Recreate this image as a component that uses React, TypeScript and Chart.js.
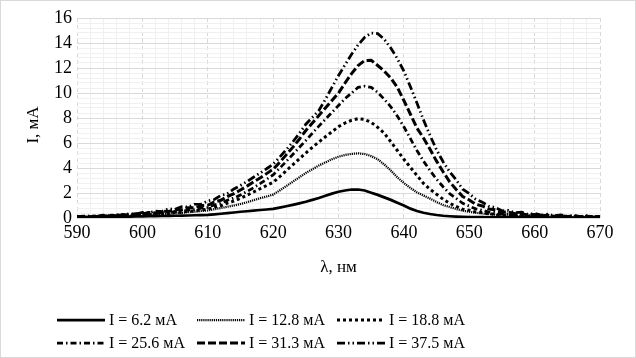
import { useEffect, useRef } from "react";
import { Chart, registerables } from "chart.js";

Chart.register(...registerables);

const FONT = '"Liberation Serif", "Times New Roman", serif';

const WAVELENGTHS = [
  590, 591, 592, 593, 594, 595, 596, 597, 598, 599,
  600, 601, 602, 603, 604, 605, 606, 607, 608, 609,
  610, 611, 612, 613, 614, 615, 616, 617, 618, 619,
  620, 621, 622, 623, 624, 625, 626, 627, 628, 629,
  630, 631, 632, 633, 634, 635, 636, 637, 638, 639,
  640, 641, 642, 643, 644, 645, 646, 647, 648, 649,
  650, 651, 652, 653, 654, 655, 656, 657, 658, 659,
  660, 661, 662, 663, 664, 665, 666, 667, 668, 669,
  670,
];

const I_6_2 = [
  0.05, 0.05, 0.06, 0.06, 0.07, 0.08, 0.09, 0.10, 0.11, 0.12,
  0.13, 0.14, 0.15, 0.16, 0.17, 0.18, 0.19, 0.20, 0.22, 0.23,
  0.25, 0.29, 0.34, 0.39, 0.44, 0.50, 0.54, 0.59, 0.64, 0.68,
  0.73, 0.83, 0.94, 1.05, 1.17, 1.30, 1.45, 1.60, 1.78, 1.95,
  2.10, 2.20, 2.28, 2.28, 2.20, 2.02, 1.85, 1.65, 1.45, 1.22,
  1.00, 0.75, 0.56, 0.42, 0.32, 0.24, 0.18, 0.14, 0.11, 0.09,
  0.08, 0.07, 0.07, 0.06, 0.06, 0.06, 0.05, 0.05, 0.05, 0.05,
  0.05, 0.05, 0.04, 0.04, 0.04, 0.04, 0.04, 0.04, 0.04, 0.04,
  0.04,
];

const I_12_8 = [
  0.06, 0.08, 0.07, 0.10, 0.08, 0.11, 0.11, 0.14, 0.14, 0.18,
  0.18, 0.23, 0.25, 0.31, 0.33, 0.39, 0.41, 0.47, 0.50, 0.56,
  0.60, 0.70, 0.80, 0.90, 1.00, 1.12, 1.26, 1.42, 1.58, 1.72,
  1.87, 2.20, 2.55, 2.90, 3.25, 3.60, 3.90, 4.20, 4.45, 4.70,
  4.90, 5.04, 5.13, 5.17, 5.12, 4.95, 4.70, 4.28, 3.80, 3.25,
  2.80, 2.40, 2.05, 1.80, 1.55, 1.28, 1.04, 0.88, 0.72, 0.58,
  0.50, 0.42, 0.36, 0.30, 0.26, 0.22, 0.19, 0.16, 0.14, 0.12,
  0.10, 0.09, 0.08, 0.08, 0.07, 0.06, 0.06, 0.05, 0.05, 0.05,
  0.05,
];

const I_18_8 = [
  0.07, 0.09, 0.07, 0.11, 0.09, 0.13, 0.11, 0.17, 0.15, 0.21,
  0.21, 0.27, 0.28, 0.35, 0.35, 0.44, 0.45, 0.54, 0.56, 0.66,
  0.70, 0.86, 0.98, 1.20, 1.36, 1.57, 1.82, 2.08, 2.34, 2.60,
  2.85, 3.30, 3.78, 4.25, 4.72, 5.20, 5.65, 6.08, 6.50, 6.90,
  7.30, 7.60, 7.82, 7.95, 7.88, 7.65, 7.25, 6.78, 6.10, 5.40,
  4.70, 4.05, 3.40, 2.77, 2.30, 1.90, 1.50, 1.18, 0.92, 0.70,
  0.62, 0.48, 0.44, 0.33, 0.31, 0.23, 0.24, 0.17, 0.18, 0.13,
  0.14, 0.10, 0.11, 0.08, 0.10, 0.07, 0.08, 0.06, 0.07, 0.05,
  0.07,
];

const I_25_6 = [
  0.08, 0.11, 0.08, 0.14, 0.11, 0.18, 0.15, 0.22, 0.20, 0.28,
  0.28, 0.35, 0.34, 0.43, 0.42, 0.53, 0.53, 0.64, 0.67, 0.79,
  0.84, 1.04, 1.18, 1.42, 1.60, 1.84, 2.12, 2.42, 2.75, 3.10,
  3.45, 3.98, 4.52, 5.08, 5.64, 6.20, 6.78, 7.35, 7.90, 8.45,
  9.00, 9.55, 10.00, 10.45, 10.55, 10.45, 10.05, 9.50, 8.90, 8.15,
  7.30, 6.35, 5.40, 4.55, 3.80, 3.10, 2.50, 1.95, 1.57, 1.18,
  0.95, 0.73, 0.63, 0.47, 0.45, 0.32, 0.33, 0.23, 0.26, 0.17,
  0.20, 0.13, 0.16, 0.11, 0.13, 0.09, 0.12, 0.08, 0.10, 0.07,
  0.09,
];

const I_31_3 = [
  0.10, 0.14, 0.10, 0.18, 0.14, 0.22, 0.18, 0.28, 0.24, 0.34,
  0.32, 0.44, 0.40, 0.54, 0.52, 0.66, 0.66, 0.82, 0.82, 1.00,
  1.02, 1.28, 1.42, 1.72, 1.94, 2.24, 2.55, 2.88, 3.20, 3.55,
  3.90, 4.45, 5.05, 5.65, 6.30, 7.00, 7.60, 8.20, 8.80, 9.40,
  10.00, 10.80, 11.55, 12.20, 12.60, 12.62, 12.20, 11.75, 11.20, 10.45,
  9.40, 8.30, 7.20, 6.40, 5.50, 4.55, 3.70, 2.90, 2.28, 1.72,
  1.44, 1.10, 0.96, 0.72, 0.66, 0.46, 0.48, 0.34, 0.36, 0.24,
  0.28, 0.18, 0.22, 0.15, 0.19, 0.12, 0.16, 0.10, 0.13, 0.09,
  0.11,
];

const I_37_5 = [
  0.12, 0.08, 0.18, 0.12, 0.22, 0.16, 0.28, 0.20, 0.36, 0.30,
  0.44, 0.42, 0.56, 0.52, 0.74, 0.70, 0.90, 0.88, 1.10, 1.12,
  1.36, 1.48, 1.80, 1.94, 2.32, 2.60, 2.92, 3.26, 3.60, 3.94,
  4.30, 4.86, 5.46, 6.08, 6.76, 7.50, 8.05, 8.60, 9.50, 10.45,
  11.40, 12.25, 13.10, 13.85, 14.45, 14.80, 14.75, 14.30, 13.60, 12.75,
  11.75, 10.50, 9.20, 7.85, 6.60, 5.45, 4.50, 3.70, 3.05, 2.30,
  1.95, 1.50, 1.26, 0.94, 0.84, 0.58, 0.60, 0.42, 0.46, 0.30,
  0.36, 0.24, 0.30, 0.18, 0.24, 0.14, 0.20, 0.12, 0.18, 0.10,
  0.14,
];

const SERIES_LABELS = [
  "I = 6.2 мА",
  "I = 12.8 мА",
  "I = 18.8 мА",
  "I = 25.6 мА",
  "I = 31.3 мА",
  "I = 37.5 мА",
];
const SERIES_VALUES = [I_6_2, I_12_8, I_18_8, I_25_6, I_31_3, I_37_5];

const X_TICK_LABELS = [590, 600, 610, 620, 630, 640, 650, 660, 670];
const Y_TICK_LABELS = [0, 2, 4, 6, 8, 10, 12, 14, 16];
const X_TITLE = "λ, нм";
const Y_TITLE = "I, мА";

const LINE_DASHES = [[], [1.2, 0.9], [3, 3], [6, 3, 1.5, 3], [8, 3], [8, 3, 1.5, 3, 1.5, 3]];
const LINE_WIDTHS = [2.75, 2.25, 3, 2.75, 3, 2.75];

const isXMajor = (v: number) => X_TICK_LABELS.some((t) => Math.abs(t - v) < 1e-6);
const isYMajor = (v: number) => Y_TICK_LABELS.some((t) => Math.abs(t - v) < 1e-6);

const decorPlugin = {
  id: "decor",
  afterDraw(chart: any) {
    const ctx = chart.ctx as CanvasRenderingContext2D;
    ctx.save();
    ctx.setLineDash([]);
    ctx.strokeStyle = "#d9d9d9";
    ctx.lineWidth = 1;
    ctx.strokeRect(0.5, 0.5, chart.width - 1, chart.height - 1);

    // y-axis title
    ctx.save();
    ctx.translate(34, 125);
    ctx.rotate(-Math.PI / 2);
    ctx.font = `17px ${FONT}`;
    ctx.fillStyle = "#000";
    ctx.textAlign = "center";
    ctx.textBaseline = "middle";
    ctx.fillText(Y_TITLE, 0, 0);
    ctx.restore();

    // legend
    const cols = [57, 197, 337];
    const rows = [320, 343];
    ctx.font = `16px ${FONT}`;
    ctx.textAlign = "left";
    ctx.textBaseline = "middle";
    SERIES_LABELS.forEach((label, i) => {
      const x = cols[i % 3];
      const y = rows[Math.floor(i / 3)];
      ctx.beginPath();
      ctx.setLineDash(LINE_DASHES[i]);
      ctx.lineWidth = LINE_WIDTHS[i];
      ctx.strokeStyle = "#000";
      ctx.moveTo(x, y);
      ctx.lineTo(x + 48, y);
      ctx.stroke();
      ctx.setLineDash([]);
      ctx.fillStyle = "#000";
      ctx.fillText(label, x + 52, y + 1);
    });
    ctx.restore();
  },
};

export default function App() {
  const canvasRef = useRef<HTMLCanvasElement | null>(null);

  useEffect(() => {
    if (!canvasRef.current) return;
    const chart = new Chart(canvasRef.current, {
      type: "line",
      data: {
        datasets: SERIES_VALUES.map((vals, i) => ({
          label: SERIES_LABELS[i],
          data: WAVELENGTHS.map((x, j) => ({ x, y: vals[j] })),
          borderColor: "#000",
          backgroundColor: "#000",
          borderWidth: LINE_WIDTHS[i],
          borderDash: LINE_DASHES[i],
          pointRadius: 0,
          fill: false,
          tension: 0,
        })),
      },
      options: {
        animation: false,
        responsive: false,
        devicePixelRatio: 1,
        layout: { padding: { left: 0, right: 36, top: 18, bottom: 0 } },
        plugins: {
          legend: { display: false },
          tooltip: { enabled: false },
        },
        scales: {
          x: {
            type: "linear",
            min: 590,
            max: 670,
            afterFit: (s: any) => {
              s.height = 140;
            },
            ticks: {
              stepSize: 2,
              autoSkip: false,
              maxRotation: 0,
              padding: 4,
              color: "#000",
              font: { family: FONT, size: 18 },
              callback: (v: any) => (isXMajor(Number(v)) ? String(Math.round(Number(v))) : ""),
            },
            grid: {
              drawTicks: false,
              color: (c: any) => (c.tick && isXMajor(c.tick.value) ? "#d9d9d9" : "#f0f0f0"),
            },
            border: {
              display: false,
              dash: (c: any) => (c.tick && isXMajor(c.tick.value) ? [4, 3] : []),
            },
            title: {
              display: true,
              text: X_TITLE,
              color: "#000",
              font: { family: FONT, size: 17 },
              padding: { top: 0, bottom: 80 },
            },
          },
          y: {
            type: "linear",
            min: 0,
            max: 16,
            afterFit: (s: any) => {
              s.width = 77;
            },
            ticks: {
              stepSize: 0.4,
              autoSkip: false,
              padding: 5,
              color: "#000",
              font: { family: FONT, size: 18 },
              callback: (v: any) => (isYMajor(Number(v)) ? String(Math.round(Number(v))) : ""),
            },
            grid: {
              drawTicks: false,
              color: (c: any) => (c.tick && isYMajor(c.tick.value) ? "#d9d9d9" : "#f0f0f0"),
            },
            border: { display: false },
          },
        },
      },
      plugins: [decorPlugin],
    } as any);
    return () => chart.destroy();
  }, []);

  return (
    <div style={{ position: "absolute", left: 0, top: 0, width: 636, height: 358, background: "#fff" }}>
      <canvas ref={canvasRef} width={636} height={358} style={{ display: "block" }} />
    </div>
  );
}
